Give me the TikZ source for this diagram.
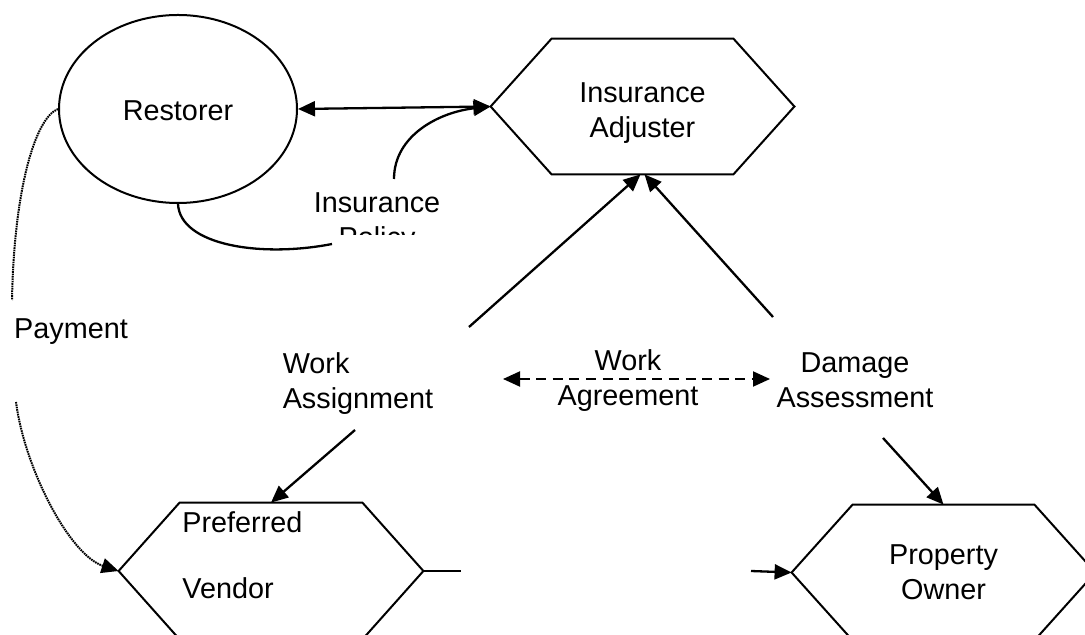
\documentclass[tikz,border=0pt]{standalone}
\usepackage{fontspec}
\setmainfont{Liberation Sans}
\usetikzlibrary{arrows.meta,shapes.geometric}
\newcommand{\drawhex}[1]{\draw[outline] (#1.west) -- ([xshift=30.5pt]#1.north west) -- ([xshift=-30.5pt]#1.north east) -- (#1.east) -- ([xshift=-30.5pt]#1.south east) -- ([xshift=30.5pt]#1.south west) -- cycle;}
\begin{document}
\begin{tikzpicture}[x=0.5pt,y=-0.5pt,
  font=\fontsize{14.4}{17.5}\selectfont,
  outline/.style={line width=1pt,draw=black},
  conn/.style={line width=1.15pt},
  tip/.style={-{Triangle[length=8.5pt,width=7.5pt]}},
  dtip/.style={{Triangle[length=8.5pt,width=7.5pt]}-{Triangle[length=8.5pt,width=7.5pt]}},
  hexnode/.style={inner sep=0pt, minimum width=151.5pt, minimum height=67.5pt, align=center},
  txt/.style={inner sep=0pt, align=center},
  dotline/.style={line width=1pt, dash pattern=on 0.8pt off 0.4pt},
  dashline/.style={line width=1pt, dash pattern=on 5pt off 3.3pt}
]
\clip (0,0) rectangle (1085,635);
\fill[white] (0,0) rectangle (1085,635);

\node[ellipse, outline, inner sep=0pt, text height=12pt, minimum width=119pt, minimum height=94pt] (rest) at (178,109) {Restorer};

\node[hexnode, text height=33.5pt] (adj) at (642.5,106.5) {Insurance\\Adjuster};
\drawhex{adj}
\node[hexnode, minimum width=152pt, minimum height=68pt] (vendor) at (271,571) {};
\drawhex{vendor}
\node[txt, align=left, anchor=west] (vendortxt) at (182,555) {Preferred\\[15.5pt]Vendor};
\node[hexnode] (owner) at (943.5,572.5) {Property\\Owner};
\drawhex{owner}

\node[txt] (pay) at (71,332) {Payment};
\node[txt, align=left] (wasg) at (358,383.5) {Work\\Assignment};
\node[txt] (wagr) at (628,380.5) {Work\\Agreement};
\node[txt] (dmg) at (855,380) {Damage\\Assessment};
\begin{scope}
\clip (300,170) rectangle (460,235);
\node[txt] (ipol) at (377,223) {Insurance\\Policy};
\end{scope}

\coordinate (ipA) at (332,244);
\coordinate (ipB) at (394,179);
\coordinate (payA) at (12,300);
\coordinate (payB) at (16,402);
\coordinate (wasgUp) at (469,327);
\coordinate (wasgDn) at (355,430);
\coordinate (dmgUp) at (773,317);
\coordinate (dmgDn) at (883,438);
\coordinate (agrL) at (503,379);
\coordinate (agrR) at (770,379);
\coordinate (vsL) at (461,571);
\coordinate (vsR) at (751,571);

\draw[conn, dtip] (rest.east) -- (adj.west);
\draw[conn] (rest.south) .. controls (180,245) and (260,258) .. (ipA);
\draw[conn, tip] (ipB) .. controls (394,135) and (440,112) .. (adj.west);
\draw[dotline] (rest.west) .. controls (35,118) and (14,190) .. (payA);
\draw[dotline, tip] (payB) .. controls (25,470) and (70,555) .. (vendor.west);
\draw[conn, tip] (wasgUp) -- ([xshift=-1pt]adj.south);
\draw[conn, tip] (dmgUp) -- ([xshift=1pt]adj.south);
\draw[conn, tip] (wasgDn) -- (vendor.north);
\draw[conn, tip] (dmgDn) -- (owner.north);
\draw[dashline, dtip] (agrL) -- (agrR);
\draw[conn] (vendor.east) -- (vsL);
\draw[conn, tip] (vsR) -- (owner.west);
\end{tikzpicture}
\end{document}
